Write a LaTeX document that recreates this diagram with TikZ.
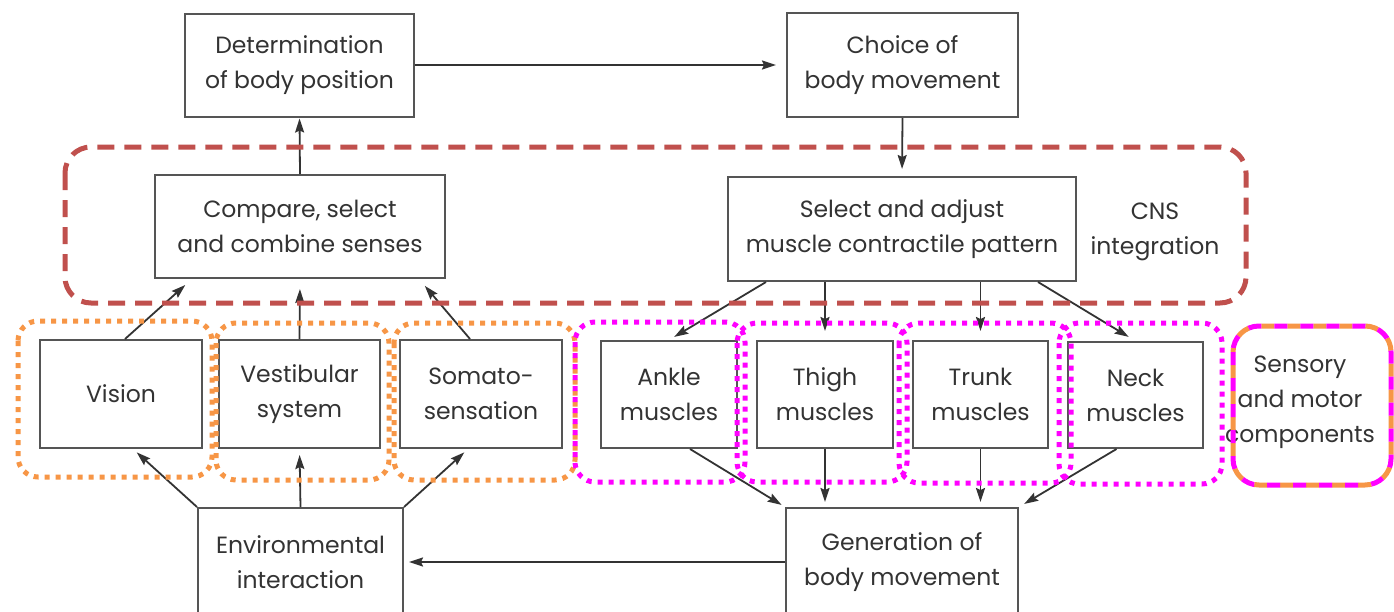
\documentclass[tikz,border=0pt]{standalone}
\usepackage{fontspec}
\usetikzlibrary{arrows.meta}
\newfontfamily\figfont{Poppins}
\definecolor{boxgray}{HTML}{555555}
\definecolor{inkgray}{HTML}{333333}
\definecolor{cnsred}{HTML}{C0504D}
\definecolor{sensorange}{HTML}{F79646}
\definecolor{motormag}{HTML}{FF00FF}
\tikzset{
  box/.style={draw=boxgray, line width=2pt, fill=white, align=center, inner sep=0pt,
    text=inkgray, font=\figfont\fontsize{23.5}{35}\selectfont},
  label/.style={align=center, inner sep=0pt, text=inkgray,
    font=\figfont\fontsize{23.5}{35}\selectfont},
  arr/.style={draw=inkgray, line width=1.8pt, -{Stealth[length=14pt,width=9pt,inset=2pt]}},
  cnsgroup/.style={draw=cnsred, line width=5pt, rounded corners=26pt, dash pattern=on 17pt off 10pt},
  sensgroup/.style={draw=sensorange, line width=5pt, rounded corners=20pt, dash pattern=on 5pt off 6pt},
  motgroup/.style={draw=motormag, line width=5pt, rounded corners=20pt, dash pattern=on 5pt off 6pt},
}
\begin{document}
\begin{tikzpicture}[x=1pt, y=-1pt]
\fill[white] (0,0) rectangle (1394,611);

% top row
\node[box, minimum width=229pt, minimum height=103pt] (det) at (299.5,65) {Determination\\of body position};
\node[box, minimum width=231pt, minimum height=104pt] (cho) at (902.5,65) {Choice of\\body movement};

% integration row
\node[box, minimum width=290pt, minimum height=103pt] (cmp) at (300,226.5) {Compare, select\\and combine senses};
\node[box, minimum width=348pt, minimum height=104pt] (sel) at (902,229) {Select and adjust\\muscle contractile pattern};
\node[label] (cns) at (1155,232) {CNS\\integration};

% sensory inputs
\node[box, minimum width=162pt, minimum height=108pt] (vis) at (121,394) {Vision};
\node[box, minimum width=161pt, minimum height=108pt] (vest) at (299.5,394) {Vestibular\\system};
\node[box, minimum width=162pt, minimum height=108pt] (som) at (481,394) {Somato-\\sensation};

% motor outputs
\node[box, minimum width=136pt, minimum height=107pt] (ank) at (669,394.5) {Ankle\\muscles};
\node[box, minimum width=136pt, minimum height=107pt] (thi) at (825,394.5) {Thigh\\muscles};
\node[box, minimum width=135pt, minimum height=107pt] (trk) at (980.5,394.5) {Trunk\\muscles};
\node[box, minimum width=135pt, minimum height=106pt] (nck) at (1135.5,395) {Neck\\muscles};

% bottom row
\node[box, minimum width=205pt, minimum height=108pt] (env) at (300.5,562) {Environmental\\interaction};
\node[box, minimum width=232pt, minimum height=108pt] (gen) at (902,562) {Generation of\\body movement};

% legend
\node[label] (leg) at (1300,402) {Sensory\\and motor\\components};

% connectors
\draw[arr, shorten >=10pt] (det.east) -- (cho.west);
\draw[arr, shorten >=7pt] (cho.south) -- (sel.north);
\draw[arr, shorten >=1pt] (cmp.north) -- (det.south);

\draw[arr, shorten >=9pt] ([xshift=4pt]vis.north) -- ([xshift=38pt]cmp.south west);
\draw[arr, shorten >=10pt] (vest.north) -- (cmp.south);
\draw[arr, shorten >=9pt] ([xshift=-11pt]som.north) -- ([xshift=-27pt]cmp.south east);

\draw[arr, shorten >=5pt] (env.north west) -- ([xshift=12pt]vis.south);
\draw[arr, shorten >=6pt] (env.north) -- (vest.south);
\draw[arr, shorten >=5pt] (env.north east) -- ([xshift=-13pt]som.south);
\draw[arr, shorten >=5pt] (gen.west) -- (env.east);

\draw[arr, shorten >=6pt] ([xshift=39pt]sel.south west) -- (ank.north);
\draw[arr, shorten >=9pt] (thi.north |- sel.south) -- (thi.north);
\draw[arr, shorten >=9pt] (trk.north |- sel.south) -- (trk.north);
\draw[arr, shorten >=8pt] ([xshift=-39pt]sel.south east) -- (nck.north);

\draw[arr, shorten >=4pt] ([xshift=21pt]ank.south) -- (gen.north west);
\draw[arr, shorten >=5pt] (thi.south) -- (thi.south |- gen.north);
\draw[arr, shorten >=5pt] (trk.south) -- (trk.south |- gen.north);
\draw[arr, shorten >=6pt] ([xshift=-19pt]nck.south) -- (gen.north east);

% grouping outlines
\draw[cnsgroup] (65,147) rectangle (1246,303);

\draw[sensgroup] (18,321) rectangle (212,477);
\draw[sensgroup] (216,323) rectangle (389,480);
\draw[sensgroup] (394,323) rectangle (575,480);

\draw[motgroup] (575,322) rectangle (745,482);
\draw[motgroup] (737,323) rectangle (907,482);
\draw[motgroup] (899,323) rectangle (1071,483);
\draw[motgroup] (1059,323) rectangle (1222,484);

% legend outline, two-colour dashes
\draw[sensorange, line width=5pt, rounded corners=26pt, dash pattern=on 13pt off 13pt, dash phase=13pt]
  (1233,326) rectangle (1391,485);
\draw[motormag, line width=5pt, rounded corners=26pt, dash pattern=on 13pt off 13pt]
  (1233,326) rectangle (1391,485);

\pgfresetboundingbox
\useasboundingbox (0,0) rectangle (1394,611);
\end{tikzpicture}
\end{document}
